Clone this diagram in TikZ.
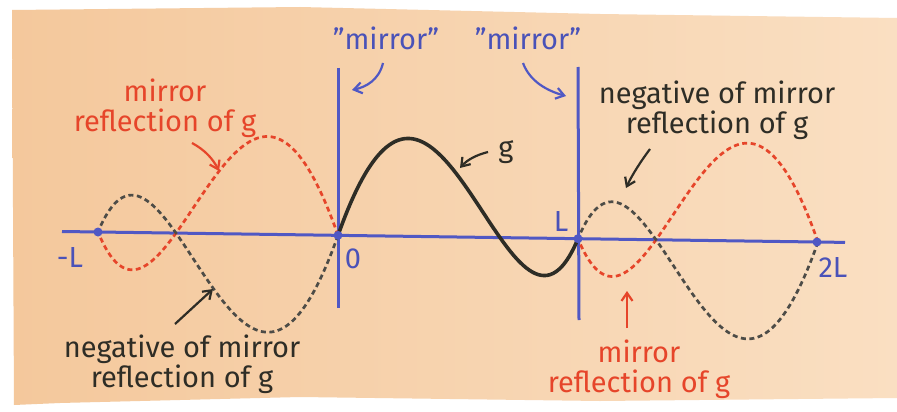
\documentclass[tikz,border=0pt]{standalone}
\usepackage{fontspec}
\setmainfont{Fira Sans}
\usetikzlibrary{arrows.meta}
\definecolor{paperL}{HTML}{F4C89C}
\definecolor{paperR}{HTML}{FADFC2}
\definecolor{axisblue}{HTML}{5058C4}
\definecolor{labblue}{HTML}{4A52B8}
\definecolor{redink}{HTML}{E6452A}
\definecolor{blackink}{HTML}{2E2D26}
\tikzset{
  axisline/.style={draw=axisblue,line width=3pt},
  mdot/.style={circle,fill=axisblue,inner sep=0pt,minimum size=9pt},
  gcurve/.style={draw=blackink,line width=3.6pt,line cap=round},
  reddash/.style={draw=redink,line width=2.7pt,dash pattern=on 5pt off 3.5pt},
  blackdash/.style={draw=blackink!85,line width=2.7pt,dash pattern=on 5pt off 3.5pt},
  lab/.style={inner sep=0pt,align=center,font=\fontsize{29}{30}\selectfont},
  redlab/.style={lab,text=redink},
  blacklab/.style={lab,text=blackink},
  bluelab/.style={lab,text=labblue},
  arr/.style={line width=2.2pt,-{Straight Barb[length=8pt,width=11pt,line width=2.2pt]}},
}
\begin{document}
\begin{tikzpicture}[x=1pt,y=-1pt,
  declare function={g(\t)=1009*\t*(\t-0.675)*(\t-1)*(1+0.77*\t); base(\X)=232+(\X-98)*0.0139;}]
\useasboundingbox (0,0) rectangle (897,412);
\fill[white] (0,0) rectangle (897,412);
\shade[left color=paperL,right color=paperR]
  (12,10) -- (300,7) -- (600,14) -- (897,18) -- (897,398) -- (600,401) -- (300,397) -- (60,403) -- (14,405) -- cycle;
% axis and mirrors
\draw[axisline] (62,231.5) -- (845,242.4);
\draw[axisline] (338,68) -- (338,308);
\draw[axisline] (578,67) -- (579,320);
% curves
\draw[reddash] plot[domain=0:1,samples=80,smooth] ({338-240*\x},{base(338-240*\x)-g(\x)});
\draw[blackdash] plot[domain=0:1,samples=80,smooth] ({338-240*\x},{base(338-240*\x)+g(\x)});
\draw[reddash] plot[domain=0:1,samples=80,smooth] ({818-240*\x},{base(818-240*\x)-g(\x)});
\draw[blackdash] plot[domain=0:1,samples=80,smooth] ({818-240*\x},{base(818-240*\x)+g(\x)});
\draw[gcurve] plot[domain=0:1,samples=80,smooth] ({338+240*\x},{base(338+240*\x)-g(\x)});
% dots
\node[mdot] (mL) at (98,232) {};
\node[mdot] (o) at (338,235.3) {};
\node[mdot] (Lp) at (578,238.7) {};
\node[mdot] (tL) at (817,242) {};
% tick labels
\node[bluelab] (tmL) at (70,258) {-L};
\node[bluelab] (t0) at (353,259) {0};
\node[bluelab] (tLp) at (561,222) {L};
\node[bluelab] (t2L) at (833,268) {2L};
% top mirror labels
\node[bluelab] (m1) at (386,38) {"mirror"};
\node[bluelab] (m2) at (528,38) {"mirror"};
\coordinate (m1s) at (383,63);
\coordinate (m1e) at (352,90);
\coordinate (m2s) at (523,63);
\coordinate (m2e) at (566,96);
\draw[arr,draw=axisblue] (m1s) .. controls (379,80) and (366,87) .. (m1e);
\draw[arr,draw=axisblue] (m2s) .. controls (530,82) and (548,91) .. (m2e);
% g label
\node[blacklab] (gl) at (506,152) {g};
\coordinate (gs) at (488,152);
\coordinate (ge) at (460,168);
\draw[arr,draw=blackink] (gs) .. controls (476,155) and (467,160) .. (ge);
% left labels
\node[redlab] (rTL) at (165,108) {mirror\\reflection of g};
\coordinate (rTLs) at (192,143);
\coordinate (rTLe) at (219,171);
\draw[arr,draw=redink] (rTLs) .. controls (205,150) and (213,159) .. (rTLe);
\node[blacklab] (bBL) at (182,364) {negative of mirror\\reflection of g};
\coordinate (bBLs) at (175,324);
\coordinate (bBLe) at (213,289);
\draw[arr,draw=blackink] (bBLs) -- (bBLe);
% right labels
\node[blacklab] (bTR) at (717,110) {negative of mirror\\reflection of g};
\coordinate (bTRs) at (650,149);
\coordinate (bTRe) at (626,188);
\draw[arr,draw=blackink] (bTRs) .. controls (641,161) and (632,175) .. (bTRe);
\node[redlab] (rBR) at (639,369) {mirror\\reflection of g};
\coordinate (rBRs) at (627,328);
\coordinate (rBRe) at (627,291);
\draw[arr,draw=redink] (rBRs) -- (rBRe);
\end{tikzpicture}
\end{document}
